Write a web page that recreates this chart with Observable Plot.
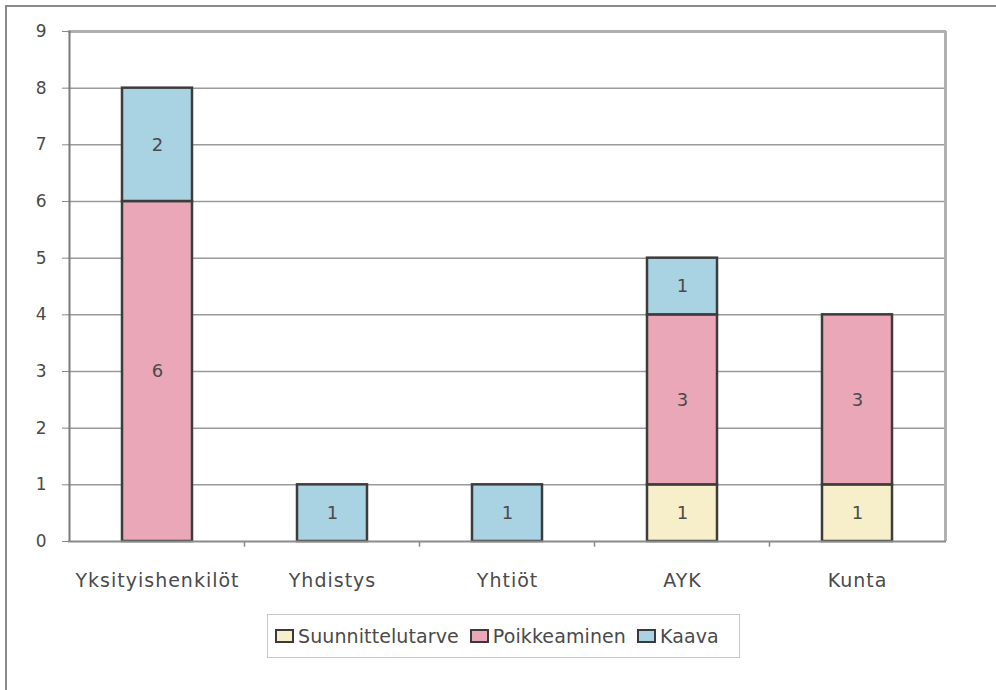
<!DOCTYPE html>
<html>
<head>
<meta charset="utf-8">
<script src="https://cdn.jsdelivr.net/npm/d3@7"></script>
<script src="https://cdn.jsdelivr.net/npm/@observablehq/plot@0.6"></script>
<style>
  html, body { margin: 0; padding: 0; background: #fff; }
  #wrap { position: relative; width: 996px; height: 690px; overflow: hidden; font-family: "DejaVu Sans", sans-serif; }
  #outer { position: absolute; left: 5px; top: 5px; width: 1000px; height: 700px; border-top: 2px solid #8a8a8a; border-left: 2px solid #8a8a8a; box-sizing: border-box; }
  #chart { position: absolute; left: 0; top: 0; }
  #legend { position: absolute; left: 267px; top: 614px; width: 473px; height: 44px; box-sizing: border-box; border: 1.5px solid #c8c8c8; display: flex; align-items: center; padding-left: 7px; font-size: 19px; letter-spacing: 0.1px; color: #4a4a4a; }
  .item { display: flex; align-items: center; margin-right: 11px; }
  .sw { width: 19px; height: 14px; border: 2px solid #3a3a3a; margin-right: 4px; box-sizing: border-box; }
  .xlab text { letter-spacing: 1px; }
</style>
</head>
<body>
<div id="wrap">
  <div id="outer"></div>
  <div id="chart"></div>
  <div id="legend"></div>
</div>
<script>
const categories = ["Yksityishenkilöt", "Yhdistys", "Yhtiöt", "AYK", "Kunta"];
const seriesNames = ["Suunnittelutarve", "Poikkeaminen", "Kaava"];
const suunnittelutarve = [0, 0, 0, 1, 1];
const poikkeaminen = [6, 0, 0, 3, 3];
const kaava = [2, 1, 1, 1, 0];
const yTicks = [0, 1, 2, 3, 4, 5, 6, 7, 8, 9];
const colors = ["#f6efc9", "#e9a7b8", "#a9d2e3"];

const seriesValues = [suunnittelutarve, poikkeaminen, kaava];
const rows = [];
seriesNames.forEach((s, si) => {
  categories.forEach((c, ci) => {
    const v = seriesValues[si][ci];
    if (v > 0) rows.push({category: c, series: s, value: v});
  });
});

const chart = Plot.plot({
  width: 996,
  height: 600,
  marginLeft: 68,
  marginRight: 50,
  marginTop: 31,
  marginBottom: 59,
  style: {fontFamily: "'DejaVu Sans', sans-serif", fontSize: "17px", color: "#4a4a4a", background: "transparent"},
  x: {domain: categories, paddingInner: 0.6, paddingOuter: 0.3, label: null},
  y: {domain: [0, 9], label: null},
  color: {domain: seriesNames, range: colors},
  marks: [
    Plot.ruleY(yTicks.filter(d => d > 0 && d < 9), {stroke: "#9a9a9a", strokeWidth: 1.5}),
    Plot.ruleY([9], {stroke: "#b0b0b0", strokeWidth: 3}),
    Plot.ruleX([categories[categories.length - 1]], {dx: 88, stroke: "#b0b0b0", strokeWidth: 3}),
    Plot.ruleX(categories.slice(1), {dx: -88, y1: 0, y2: -0.1, stroke: "#888", strokeWidth: 1.5}),
    Plot.barY(rows, {x: "category", y: "value", fill: "series", stroke: "#3c3c3c", strokeWidth: 2.5}),
    Plot.text(rows, Plot.stackY({x: "category", y: "value", text: d => String(d.value), fill: "#4a4a4a", fontSize: 18})),
    Plot.axisY({ticks: yTicks, tickSize: 6, tickPadding: 16, stroke: "#888", fontSize: 17, tickFormat: d => String(d)}),
    Plot.axisX({tickSize: 0, tickPadding: 32, fontSize: 19, className: "xlab"}),
    Plot.ruleX([categories[0]], {dx: -88, stroke: "#7a7a7a", strokeWidth: 2}),
    Plot.ruleY([0], {stroke: "#8a8a8a", strokeWidth: 2})
  ]
});
document.getElementById("chart").appendChild(chart);

const legend = document.getElementById("legend");
seriesNames.forEach((s, i) => {
  const item = document.createElement("div");
  item.className = "item";
  const sw = document.createElement("div");
  sw.className = "sw";
  sw.style.background = colors[i];
  const t = document.createElement("span");
  t.textContent = s;
  item.appendChild(sw);
  item.appendChild(t);
  legend.appendChild(item);
});
</script>
</body>
</html>
